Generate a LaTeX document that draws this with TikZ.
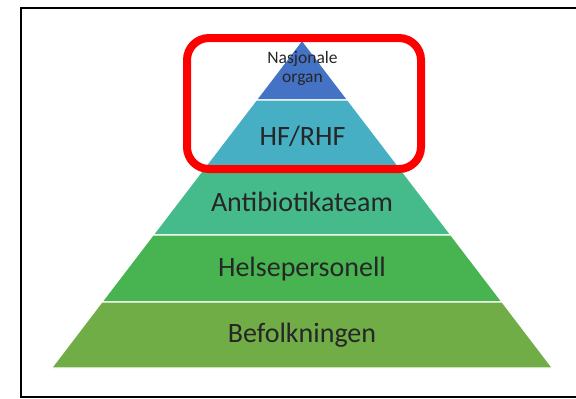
\documentclass[tikz,border=0pt]{standalone}
\usepackage{fontspec}
\setmainfont{Carlito}
\definecolor{lvA}{HTML}{4472C4}
\definecolor{lvB}{HTML}{46AFC3}
\definecolor{lvC}{HTML}{45BB8C}
\definecolor{lvD}{HTML}{47B351}
\definecolor{lvE}{HTML}{70AD47}
\definecolor{hlred}{HTML}{FF0000}
\begin{document}
\begin{tikzpicture}[x=1pt,y=-1pt,
  layer/.style={draw=white,line width=1.2pt},
  lbl/.style={font=\fontsize{28}{30}\selectfont,text=black!85,inner sep=0pt,anchor=center}]
\useasboundingbox (0,0) rectangle (576,399);
\begin{scope}
\clip (0,0) rectangle (576,399);
\draw[line width=1.6pt,black] (21,8) rectangle (590,397);
\end{scope}
% pyramid layers
\coordinate (apex) at (302,40);
\fill[lvA,layer] (302,40) -- (347.8,100) -- (256.2,100) -- cycle;
\fill[lvB,layer] (256.2,100) -- (347.8,100) -- (399.8,168) -- (204.2,168) -- cycle;
\fill[lvC,layer] (204.2,168) -- (399.8,168) -- (451,235) -- (153,235) -- cycle;
\fill[lvD,layer] (153,235) -- (451,235) -- (502.2,302) -- (101.8,302) -- cycle;
\fill[lvE,layer] (101.8,302) -- (502.2,302) -- (552.5,368) -- (51.5,368) -- cycle;
\node[font=\fontsize{17.5}{19}\selectfont,text=black!85,align=center,inner sep=0pt] (nat) at (302.5,68) {Nasjonale\\organ};
\node[lbl] (hf) at (302.5,136) {HF/RHF};
\node[lbl] (ab) at (302,202) {Antibiotikateam};
\node[lbl] (hp) at (302,269) {Helsepersonell};
\node[lbl] (bf) at (302,335) {Befolkningen};
% highlight box
\draw[hlred,line width=8pt,rounded corners=22pt] (187,38) rectangle (421,169);
\end{tikzpicture}
\end{document}
